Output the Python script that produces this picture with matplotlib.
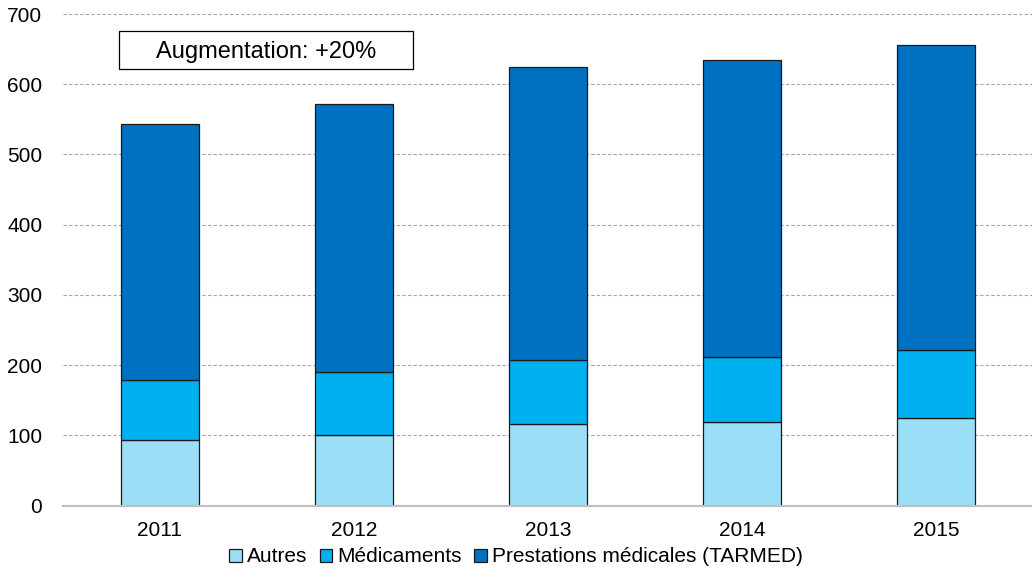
import numpy as np
import matplotlib.pyplot as plt
from matplotlib.patches import Rectangle

plt.rcParams['font.family'] = ['Liberation Sans', 'DejaVu Sans']

years = ['2011', '2012', '2013', '2014', '2015']
autres = [93, 100, 116, 119, 125]
medicaments = [86, 90, 91, 93, 97]
prestations = [364, 382, 418, 423, 434]

labels = ['Autres', 'Médicaments', 'Prestations médicales (TARMED)']
colors = ['#9BDEF8', '#00B0F0', '#0070C0']

fig = plt.figure(figsize=(10.32, 5.69), dpi=100)
ax = fig.add_axes([63 / 1032, 63.5 / 569, 970 / 1032, 491.5 / 569])

x = np.arange(len(years))
bottom = np.zeros(len(years))
for vals, lab, col in zip([autres, medicaments, prestations], labels, colors):
    ax.bar(x, vals, width=0.4, bottom=bottom, color=col, edgecolor='#1a1a1a',
           linewidth=0.9, label=lab, zorder=3)
    bottom += np.array(vals)

ax.set_xlim(-0.5, 4.5)
ax.set_ylim(0, 700)
ax.set_yticks(range(0, 701, 100))
ax.set_xticks(x)
ax.set_xticklabels(years)
ax.tick_params(axis='both', length=0, labelsize=15, colors='black')
ax.tick_params(axis='y', pad=15)
ax.tick_params(axis='x', pad=11)

ax.yaxis.grid(True, linestyle=(0, (3, 2)), color='#a6a6a6', linewidth=0.8, zorder=0)
for side in ['top', 'right', 'left']:
    ax.spines[side].set_visible(False)
ax.spines['bottom'].set_color('#bfbfbf')
ax.spines['bottom'].set_linewidth(1.5)
ax.spines['bottom'].set_zorder(4)

# annotation box for the overall increase
trans = ax.get_yaxis_transform()
ax.add_patch(Rectangle((0.0577, 622), 0.303, 54, transform=trans, facecolor='white',
                       edgecolor='black', linewidth=0.9, zorder=5))
ax.text(0.0577 + 0.303 / 2, 646, 'Augmentation: +20%', transform=trans,
        ha='center', va='center', fontsize=17, zorder=6)

fig.legend(loc='center', bbox_to_anchor=(0.5, 1 - 557 / 569), ncol=3,
           frameon=False, fontsize=15, handlelength=0.6, handleheight=0.6,
           handletextpad=0.25, columnspacing=0.6, borderaxespad=0)

fig.savefig('out.png', dpi=100)
